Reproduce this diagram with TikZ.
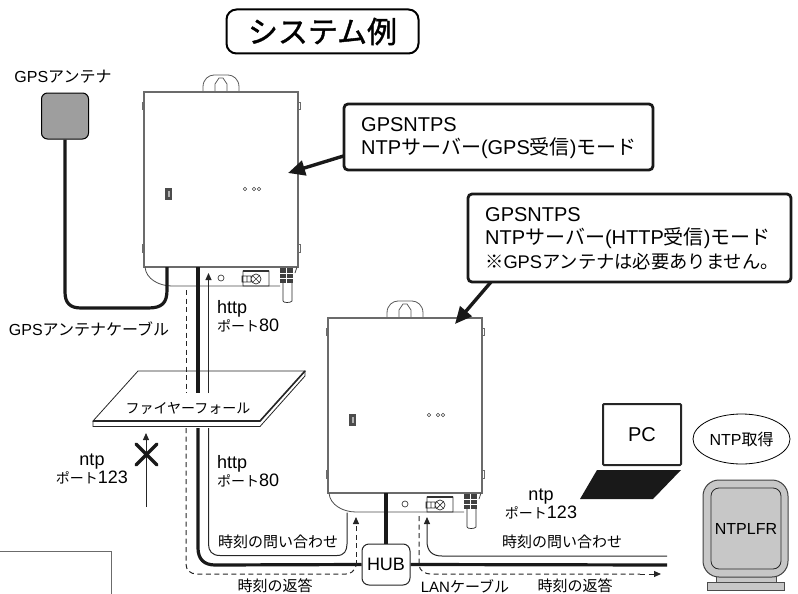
\documentclass[tikz,border=0pt]{standalone}
\usepackage{fontspec}
\setmainfont{Noto Sans CJK JP}
\newfontfamily\lat{Liberation Sans}
\newfontfamily\ttlfont[FakeBold=1.3]{Noto Sans CJK JP}
\newcommand{\la}[1]{{\fontsize{18}{18}\selectfont\lat #1}}
\usetikzlibrary{arrows.meta,shapes.geometric}
\definecolor{dev}{gray}{0.42}
\tikzset{
 lbl/.style={inner sep=0pt,font=\fontsize{15}{17}\selectfont,align=left},
 portlbl/.style={lbl,font=\fontsize{14}{18}\selectfont},
 thickline/.style={line width=3.2pt,black!90},
 thinline/.style={line width=1pt,black!85},
 dashline/.style={line width=1pt,black!85,dash pattern=on 5pt off 3.5pt},
 callout/.style={draw=black!90,line width=2.8pt,rounded corners=4pt,fill=white,inner sep=0pt},
 callt/.style={lbl,anchor=west,font=\fontsize{20}{23.5}\selectfont},
 bigarrow/.style={line width=3.4pt,black!90,-{Triangle[length=17pt,width=15pt]}},
 arr/.style={-{Triangle[length=7pt,width=6pt]}},
 devline/.style={draw=dev,line width=1pt},
 pics/device/.style={code={
  \draw[black!65,line width=.8pt] (59,0) -- (59,-5) .. controls (59,-13) and (65,-17) .. (70,-17) -- (84,-17) .. controls (89,-17) and (95,-13) .. (95,-5) -- (95,0);
  \draw[black!65,line width=.8pt] (71,0) -- (71,-8) -- (75,-14) -- (79,-14) -- (83,-8) -- (83,0);
  \draw[devline] (0,10) rectangle (-2,17) (0,152) rectangle (-2,160) (154,10) rectangle (156,17) (154,152) rectangle (156,160);
  \draw[devline,line width=1.2pt] (0,0) rectangle (154,175);
  \draw[black!70,line width=.8pt] (1,175) .. controls (2,187) and (15,194) .. (28,194) -- (136,194);
  \draw[black!70,line width=.8pt] (153,175) -- (151,181);
  \fill[black!70] (21,96) rectangle (28,108);
  \fill[white!70!black] (23.5,99) rectangle (25.5,105);
  \draw[black!75,line width=.6pt] (101,97) circle (1.8) (110,97) circle (1.8) (115,97) circle (1.8);
  \draw[black!75,line width=.7pt] (77,186) circle (3);
  \draw[black!80,line width=.7pt] (99,179) rectangle (125,194) (112,187) circle (5)
    (109,184) -- (115,190) (109,190) -- (115,184) (98,184) rectangle (107,190) (103,184) -- (103,190);
  \draw[black!80,line width=1.5pt] (99,179) -- (125,179);
  \draw[black!85,line width=.7pt] (139,191) -- (139,209) .. controls (139,211) and (147,211) .. (148,209) -- (148,191);
  \fill[black!75] (136,176) rectangle (149,191);
  \draw[white,line width=.6pt] (136,181) -- (149,181) (136,186) -- (149,186) (142,176) -- (142,191);
 }}
}
\begin{document}
\begin{tikzpicture}[x=1pt,y=-1pt]
\useasboundingbox (0,0) rectangle (798,594);
% title
\node[draw=black,line width=2pt,rounded corners=10pt,minimum width=192pt,minimum height=44pt,inner sep=0pt,font=\fontsize{30}{34}\selectfont\ttlfont] (title) at (322.5,31.5) {システム例};
% devices
\pic at (144,92) {device};
\pic at (328,318) {device};
% GPS antenna
\node[lbl,font=\fontsize{16}{18}\selectfont] (gpslabel) at (63,77) {{\lat GPS}アンテナ};
\node[draw=black,line width=1pt,fill=black!38,rounded corners=6pt,minimum width=47pt,minimum height=46pt,inner sep=0pt] (ant) at (65,116) {};
\coordinate (d1cable) at (167,267);
\draw[thickline] (ant.south) -- (65,292) .. controls (65,303) and (70,308) .. (81,308) -- (148,308) .. controls (162,308) and (167,303) .. (167,290) -- (d1cable);
\node[lbl,font=\fontsize{16}{18}\selectfont] (cablelabel) at (89,329) {{\lat GPS}アンテナケーブル};
% callouts and their arrows
\coordinate (a1) at (288,173);
\coordinate (a2) at (455,324);
\draw[bigarrow] (350,154) -- (a1);
\draw[bigarrow] (497,275) -- (a2);
\node[callout,minimum width=309pt,minimum height=66pt] (c1) at (498.5,137) {};
\node[callt] (c1t) at (361,138) {{\lat GPSNTPS}\\{\lat NTP}サーバー{\lat (GPS}受信{\lat )}モード};
\node[callout,minimum width=323pt,minimum height=88pt] (c2) at (629.5,238) {};
\node[callt] (c2t) at (485,238.5) {{\lat GPSNTPS}\\{\lat NTP}サーバー{\lat (HTTP}受信{\lat )}モード\\{\fontsize{18.3}{23.5}\selectfont ※{\lat GPS}アンテナは必要ありません。}};
% firewall
\coordinate (fwa) at (138,371);
\coordinate (fwb) at (305,371);
\coordinate (fwc) at (260,421);
\coordinate (fwd) at (93,421);
\draw[black!85,line width=.8pt,fill=white] (fwa) -- (fwb) -- (fwc) -- (fwd) -- cycle;
\draw[black!85,line width=.8pt] (fwd) -- (93,426.5) -- (260,426.5) -- (305,376) -- (fwb);
\draw[black!85,line width=1.6pt] (fwd) -- (fwc) -- (fwb);
\node[lbl,font=\fontsize{14}{16}\selectfont] (fwt) at (188,408) {ファイヤーフォール};
% hub
\node[draw=black!85,line width=1pt,rounded corners=7pt,fill=white,minimum width=48pt,minimum height=41pt,inner sep=0pt,font=\fontsize{18}{20}\selectfont\lat] (hub) at (386,564.5) {HUB};
% cables
\coordinate (d1lan) at (198,267);
\coordinate (d2lan) at (386,493);
\coordinate (rightend) at (667,565);
\draw[thickline] (d1lan) -- (198,393);
\draw[thickline] (198,428) -- (198,548) .. controls (198,559) and (204,565) .. (215,565) -- (hub.west);
\draw[thickline] (d2lan) -- (hub.north);
\draw[thickline] (hub.east) -- (rightend);
% arrows device 1
\coordinate (d1http) at (208.5,273);
\draw[thinline,arr] (208.5,393) -- (d1http);
\draw[thinline] (208.5,428) -- (208.5,544) .. controls (208.5,551) and (212,555.5) .. (220,555.5) -- (337,555.5) .. controls (344,555.5) and (347,551) .. (347,544) -- (347,512.5);
\draw[dashline] (186,290) -- (186,393);
\draw[dashline] (186,428) -- (186,564) .. controls (186,570) and (190,574) .. (197,574) -- (346,574) .. controls (351,574) and (354,571) .. (356,566);
\draw[dashline,arr] (356,565) -- (356,517);
\coordinate (d2ntp) at (427,517);
\draw[thinline,arr] (667,556) -- (442,556) .. controls (432,556) and (427,551) .. (427,541) -- (d2ntp);
\draw[dashline] (419,516) -- (419,565) .. controls (420,571) and (424,574) .. (432,574) -- (640,574);
\draw[dashline,arr] (640,574) -- (661,574);
% ntp arrow & cross
\coordinate (ntpend) at (146,433);
\draw[thinline,arr] (146,507) -- (ntpend);
\draw[line width=3.4pt,black!90,line cap=round] (136,444) -- (157,465) (157,444) -- (136,465);
% labels
\node[portlbl,anchor=west] (h1) at (217,316) {\la{http}\\ポート\la{80}};
\node[portlbl,anchor=west] (h2) at (217,471) {\la{http}\\ポート\la{80}};
\node[portlbl,align=center] (n1) at (92,469) {\la{ntp}\\ポート\la{123}};
\node[portlbl,align=center] (n2) at (541,503.5) {\la{ntp}\\ポート\la{123}};
\node[lbl] (q1) at (278,542) {時刻の問い合わせ};
\node[lbl] (q2) at (562,542) {時刻の問い合わせ};
\node[lbl] (r1) at (275,586) {時刻の返答};
\node[lbl] (lan) at (465,586) {{\lat LAN}ケーブル};
\node[lbl] (r2) at (575,586) {時刻の返答};
% PC
\node[draw=black!85,line width=2pt,rounded corners=1pt,fill=white,minimum width=78pt,minimum height=61pt,inner sep=0pt,font=\fontsize{20}{22}\selectfont\lat] (pc) at (642,434.5) {PC};
\fill[black!90] (597,470) -- (681,470) -- (653,499) -- (580,499) -- cycle;
% NTP
\node[draw=black,line width=.8pt,ellipse,minimum width=97pt,minimum height=50pt,inner sep=0pt,font=\fontsize{16}{18}\selectfont] (np) at (741.5,439) {{\lat NTP}取得};
% NTPLFR
\draw[draw=black!70,line width=1pt,fill=black!22] (716,570) rectangle (776,582);
\draw[draw=black!70,line width=1pt,fill=black!22] (707,582) rectangle (784,590);
\node[draw=black!75,line width=1pt,fill=black!22,rounded corners=16pt,minimum width=85pt,minimum height=97pt,inner sep=0pt] (lfro) at (745.5,528.5) {};
\node[draw=black!85,line width=.8pt,rounded corners=8pt,minimum width=70pt,minimum height=81pt,inner sep=0pt,font=\fontsize{16}{18}\selectfont\lat] (lfr) at (746,528.5) {NTPLFR};
% corner box
\draw[dev,line width=.9pt] (0,551) -- (111,551) -- (111,594);
\end{tikzpicture}
\end{document}
